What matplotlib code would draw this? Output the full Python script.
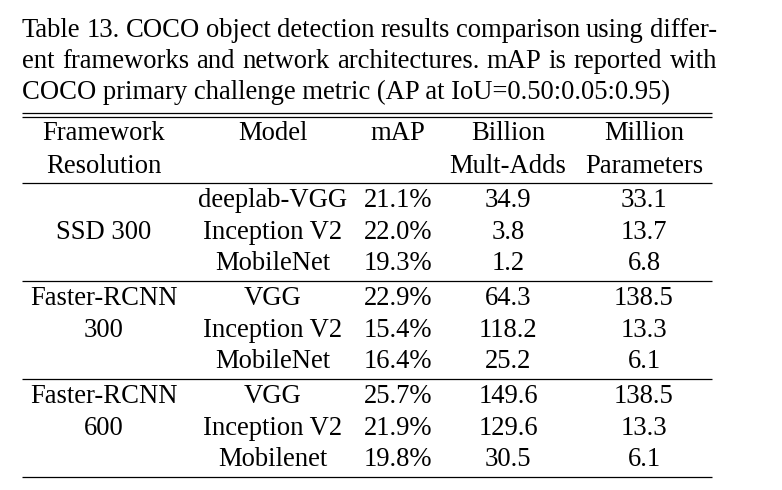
import matplotlib
matplotlib.use("Agg")
import matplotlib.pyplot as plt

# ---- data ----
caption_lines = [
    "Table 13. COCO object detection results comparison using differ-",
    "ent frameworks and network architectures.  mAP is reported with",
    "COCO primary challenge metric (AP at IoU=0.50:0.05:0.95)",
]
header_top = ["Framework", "Model", "mAP", "Billion", "Million"]
header_bottom = ["Resolution", "", "", "Mult-Adds", "Parameters"]
group_labels = [["", "SSD 300", ""], ["Faster-RCNN", "300", ""], ["Faster-RCNN", "600", ""]]
models = [["deeplab-VGG", "Inception V2", "MobileNet"],
          ["VGG", "Inception V2", "MobileNet"],
          ["VGG", "Inception V2", "Mobilenet"]]
map_vals = [[21.1, 22.0, 19.3], [22.9, 15.4, 16.4], [25.7, 21.9, 19.8]]
madds = [[34.9, 3.8, 1.2], [64.3, 118.2, 25.2], [149.6, 129.6, 30.5]]
params = [[33.1, 13.7, 6.8], [138.5, 13.3, 6.1], [138.5, 13.3, 6.1]]

# ---- layout ----
W, H = 782, 490
FONT = "Liberation Serif"
FS = 19.2
fig = plt.figure(figsize=(W / 100, H / 100), dpi=100)
ax = fig.add_axes([0, 0, 1, 1])
ax.set_xlim(0, W)
ax.set_ylim(H, 0)
ax.axis("off")
renderer = fig.canvas.get_renderer()

# caption (justified lines)
cap_left, cap_right = 22, 717
cap_base = [37, 68, 99]
for i, line in enumerate(caption_lines):
    y = cap_base[i]
    if i < len(caption_lines) - 1:
        words = line.split()
        texts = [ax.text(0, y, w, fontsize=FS, family=FONT, va="baseline", ha="left") for w in words]
        widths = [t.get_window_extent(renderer).width for t in texts]
        gap = (cap_right - cap_left - sum(widths)) / (len(words) - 1)
        x = cap_left
        for t, w in zip(texts, widths):
            t.set_x(x)
            x += w + gap
    else:
        ax.text(cap_left, y, line, fontsize=FS, family=FONT, va="baseline", ha="left")

# rules
tl, tr = 22, 712
def rule(y):
    ax.plot([tl, tr], [y, y], color="black", lw=0.9, solid_capstyle="butt")

rule(112.7)
rule(117.3)
rule(182.7)

col_x = [104, 273, 398, 508, 644]
for cx, a, b in zip(col_x, header_top, header_bottom):
    ax.text(cx, 140, a, fontsize=FS, family=FONT, ha="center", va="baseline")
    if b:
        ax.text(cx, 172.5, b, fontsize=FS, family=FONT, ha="center", va="baseline")

group_starts = [207, 305, 403]
row_step = 31.7
for g in range(3):
    y0 = group_starts[g]
    for r in range(3):
        y = y0 + r * row_step
        vals = [group_labels[g][r], models[g][r], f"{map_vals[g][r]:.1f}%",
                f"{madds[g][r]:.1f}", f"{params[g][r]:.1f}"]
        for cx, v in zip(col_x, vals):
            if v:
                ax.text(cx, y, v, fontsize=FS, family=FONT, ha="center", va="baseline")
    rule(y0 + 2 * row_step + 10.7)

fig.savefig("out.png", dpi=100)
